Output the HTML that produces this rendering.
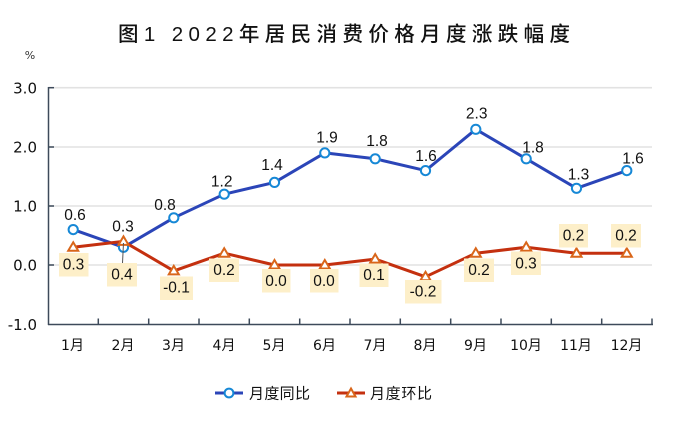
<!DOCTYPE html>
<html>
<head>
<meta charset="utf-8">
<style>
html,body{margin:0;padding:0;background:#fff;}
svg{display:block;}
.t{font-family:"Liberation Sans","Noto Sans CJK SC",sans-serif;font-size:15.5px;fill:#111;}
.ax{font-family:"DejaVu Sans","Noto Sans CJK SC",sans-serif;font-size:15px;fill:#111;}
.xl{font-family:"DejaVu Sans","Noto Sans CJK SC",sans-serif;font-size:14px;fill:#111;}
.cj{font-family:"Liberation Sans","Noto Sans CJK SC",sans-serif;font-size:15px;fill:#111;}
</style>
</head>
<body>
<svg width="674" height="431" viewBox="0 0 674 431" xmlns="http://www.w3.org/2000/svg">
<rect width="674" height="431" fill="#fff"/>
<!-- title -->
<text x="118" y="41" textLength="452" lengthAdjust="spacing" style="font-family:'Liberation Sans','Noto Sans CJK SC',sans-serif;font-size:20.5px;font-weight:500;fill:#111;">图1  2022年居民消费价格月度涨跌幅度</text>
<!-- % -->
<text x="30" y="59" text-anchor="middle" style="font-family:'DejaVu Sans',sans-serif;font-size:11px;fill:#333;">%</text>
<!-- gridlines -->
<g stroke="#e2e2e2" stroke-width="1.6">
<line x1="49" y1="87.7" x2="652" y2="87.7"/>
<line x1="49" y1="147" x2="652" y2="147"/>
<line x1="49" y1="206" x2="652" y2="206"/>
<line x1="49" y1="265" x2="652" y2="265"/>
</g>
<!-- axes -->
<g stroke="#3d4a5a" stroke-width="1.5" fill="none">
<line x1="48.5" y1="87" x2="48.5" y2="325"/>
<line x1="48" y1="324.5" x2="653" y2="324.5"/>
<line x1="48" y1="87.7" x2="54" y2="87.7"/>
<line x1="48" y1="147" x2="54" y2="147"/>
<line x1="48" y1="206" x2="54" y2="206"/>
<line x1="48" y1="265" x2="54" y2="265"/>
<line x1="98.3" y1="318.5" x2="98.3" y2="324.5"/>
<line x1="148.7" y1="318.5" x2="148.7" y2="324.5"/>
<line x1="199" y1="318.5" x2="199" y2="324.5"/>
<line x1="249.3" y1="318.5" x2="249.3" y2="324.5"/>
<line x1="299.7" y1="318.5" x2="299.7" y2="324.5"/>
<line x1="350" y1="318.5" x2="350" y2="324.5"/>
<line x1="400.3" y1="318.5" x2="400.3" y2="324.5"/>
<line x1="450.7" y1="318.5" x2="450.7" y2="324.5"/>
<line x1="501" y1="318.5" x2="501" y2="324.5"/>
<line x1="551.3" y1="318.5" x2="551.3" y2="324.5"/>
<line x1="601.7" y1="318.5" x2="601.7" y2="324.5"/>
<line x1="652" y1="318.5" x2="652" y2="324.5"/>
</g>
<!-- y labels -->
<g class="ax" text-anchor="end">
<text x="37" y="93.3">3.0</text>
<text x="37" y="152.6">2.0</text>
<text x="37" y="211.6">1.0</text>
<text x="37" y="270.6">0.0</text>
<text x="37" y="330">-1.0</text>
</g>
<!-- x labels -->
<g class="xl" text-anchor="middle">
<text x="72.5" y="350">1月</text>
<text x="123" y="350">2月</text>
<text x="173.5" y="350">3月</text>
<text x="224" y="350">4月</text>
<text x="274" y="350">5月</text>
<text x="324.5" y="350">6月</text>
<text x="375" y="350">7月</text>
<text x="425" y="350">8月</text>
<text x="475.5" y="350">9月</text>
<text x="526" y="350">10月</text>
<text x="576" y="350">11月</text>
<text x="626.5" y="350">12月</text>
</g>
<!-- blue line -->
<polyline fill="none" stroke="#2b45b8" stroke-width="3" stroke-linejoin="round"
points="73.2,229.6 123.5,247.3 173.8,217.8 224.2,194.2 274.5,182.4 324.8,152.9 375.2,158.8 425.5,170.6 475.8,129.3 526.2,158.8 576.5,188.3 626.8,170.6"/>
<g fill="#fff" stroke="#1688d6" stroke-width="2">
<circle cx="73.2" cy="229.6" r="4.6"/>
<circle cx="123.5" cy="247.3" r="4.6"/>
<circle cx="173.8" cy="217.8" r="4.6"/>
<circle cx="224.2" cy="194.2" r="4.6"/>
<circle cx="274.5" cy="182.4" r="4.6"/>
<circle cx="324.8" cy="152.9" r="4.6"/>
<circle cx="375.2" cy="158.8" r="4.6"/>
<circle cx="425.5" cy="170.6" r="4.6"/>
<circle cx="475.8" cy="129.3" r="4.6"/>
<circle cx="526.2" cy="158.8" r="4.6"/>
<circle cx="576.5" cy="188.3" r="4.6"/>
<circle cx="626.8" cy="170.6" r="4.6"/>
</g>
<!-- red line -->
<polyline fill="none" stroke="#c4300f" stroke-width="3" stroke-linejoin="round"
points="73.2,247.3 123.5,241.4 173.8,270.9 224.2,253.2 274.5,265 324.8,265 375.2,259.1 425.5,276.8 475.8,253.2 526.2,247.3 576.5,253.2 626.8,253.2"/>
<g fill="#fff" stroke="#d9661a" stroke-width="2" stroke-linejoin="miter">
<polygon points="73.2,242.3 78.2,250.8 68.2,250.8"/>
<polygon points="123.5,236.4 128.5,244.9 118.5,244.9"/>
<polygon points="173.8,265.9 178.8,274.4 168.8,274.4"/>
<polygon points="224.2,248.2 229.2,256.7 219.2,256.7"/>
<polygon points="274.5,260 279.5,268.5 269.5,268.5"/>
<polygon points="324.8,260 329.8,268.5 319.8,268.5"/>
<polygon points="375.2,254.1 380.2,262.6 370.2,262.6"/>
<polygon points="425.5,271.8 430.5,280.3 420.5,280.3"/>
<polygon points="475.8,248.2 480.8,256.7 470.8,256.7"/>
<polygon points="526.2,242.3 531.2,250.8 521.2,250.8"/>
<polygon points="576.5,248.2 581.5,256.7 571.5,256.7"/>
<polygon points="626.8,248.2 631.8,256.7 621.8,256.7"/>
</g>
<!-- leader line -->
<line x1="122.5" y1="263" x2="123.5" y2="243" stroke="#555" stroke-width="1"/>
<!-- red label boxes -->
<g fill="#fdefc9">
<rect x="59" y="253" width="29.5" height="23.5"/>
<rect x="107" y="263" width="30" height="23.5"/>
<rect x="160" y="276.5" width="33" height="23.5"/>
<rect x="209" y="258.5" width="30" height="23.5"/>
<rect x="262" y="269" width="28.5" height="23.5"/>
<rect x="310" y="269" width="28.5" height="23.5"/>
<rect x="359.5" y="263.5" width="29" height="23.5"/>
<rect x="405" y="280" width="36.5" height="23.5"/>
<rect x="464" y="258.5" width="30" height="23.5"/>
<rect x="511" y="251.5" width="30" height="23.5"/>
<rect x="559" y="224" width="29" height="23.5"/>
<rect x="611" y="224" width="30" height="23.5"/>
</g>
<g class="t" text-anchor="middle">
<text x="73.5" y="269.5">0.3</text>
<text x="122" y="279.3">0.4</text>
<text x="176.5" y="292.5">-0.1</text>
<text x="224" y="275">0.2</text>
<text x="276" y="286">0.0</text>
<text x="324" y="286">0.0</text>
<text x="374" y="280">0.1</text>
<text x="423" y="296.5">-0.2</text>
<text x="479" y="275">0.2</text>
<text x="526" y="268.3">0.3</text>
<text x="573.5" y="240.7">0.2</text>
<text x="626" y="240.7">0.2</text>
</g>
<!-- blue labels -->
<g class="t" text-anchor="middle">
<text x="75" y="220">0.6</text>
<text x="123" y="231.7">0.3</text>
<text x="165" y="210">0.8</text>
<text x="221.7" y="186.7">1.2</text>
<text x="272" y="170">1.4</text>
<text x="327" y="142.3">1.9</text>
<text x="377" y="146">1.8</text>
<text x="426" y="161">1.6</text>
<text x="476.7" y="118.3">2.3</text>
<text x="533" y="152.7">1.8</text>
<text x="578.5" y="179.3">1.3</text>
<text x="633" y="163.3">1.6</text>
</g>
<!-- legend -->
<line x1="215" y1="393" x2="243" y2="393" stroke="#2b45b8" stroke-width="3"/>
<circle cx="229" cy="393" r="4.4" fill="#fff" stroke="#1688d6" stroke-width="2"/>
<text x="249" y="398.5" class="cj" textLength="61" lengthAdjust="spacing">月度同比</text>
<line x1="337" y1="393" x2="365" y2="393" stroke="#c4300f" stroke-width="3"/>
<polygon points="351,388.5 355.5,396.5 346.5,396.5" fill="#fff" stroke="#d9661a" stroke-width="2"/>
<text x="370" y="398.5" class="cj" textLength="62" lengthAdjust="spacing">月度环比</text>
</svg>
</body>
</html>
